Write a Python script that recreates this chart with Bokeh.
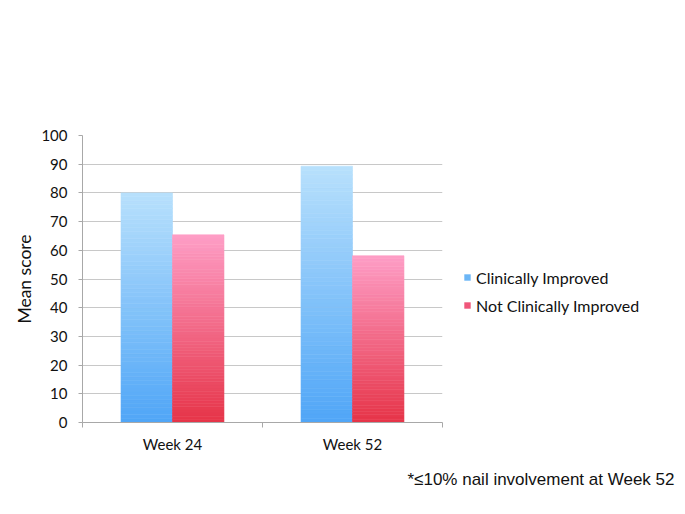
from bokeh.plotting import figure
from bokeh.models import Range1d, FixedTicker, Legend, LegendItem, Title, ColumnDataSource
from bokeh.embed import file_html
from bokeh.resources import INLINE

categories = ["Week 24", "Week 52"]
series_names = ["Clinically Improved", "Not Clinically Improved"]
clin_improved = [80.0, 89.3]
not_clin_improved = [65.4, 58.1]
y_ticks = [0, 10, 20, 30, 40, 50, 60, 70, 80, 90, 100]
footnote = "*\u226410% nail involvement at Week 52"

top_colors = [(184, 224, 252), (254, 158, 198)]
bottom_colors = [(80, 166, 247), (230, 52, 72)]
legend_colors = ["#6cb6f6", "#f0567a"]

p = figure(frame_width=360, frame_height=287, output_backend="svg", toolbar_location=None,
           x_range=Range1d(0, 2), y_range=Range1d(0, 100),
           min_border_left=82, min_border_right=235, min_border_top=135, min_border_bottom=70)
p.outline_line_color = None
p.background_fill_color = "white"
p.border_fill_color = "white"

bar_w = 0.286
N = 60

def hexc(c):
    return "#%02x%02x%02x" % tuple(int(round(v)) for v in c)

for s, vals in enumerate([clin_improved, not_clin_improved]):
    lefts, rights, bots, tops, cols = [], [], [], [], []
    for i, v in enumerate(vals):
        c = i + 0.5
        l = c - bar_w if s == 0 else c
        r = l + bar_w
        for k in range(N):
            f0 = k / N
            f1 = (k + 1) / N
            t = (f0 + f1) / 2
            col = tuple(bottom_colors[s][j] + (top_colors[s][j] - bottom_colors[s][j]) * t for j in range(3))
            lefts.append(l); rights.append(r)
            bots.append(v * f0); tops.append(v * f1)
            cols.append(hexc(col))
    src = ColumnDataSource(dict(left=lefts, right=rights, bottom=bots, top=tops, color=cols))
    p.quad(left="left", right="right", bottom="bottom", top="top", fill_color="color",
           line_color="color", line_width=0.6, source=src)

# legend proxies (placed outside the visible range)
dummies = []
for s in range(2):
    d = p.quad(left=[-10], right=[-9], bottom=[-10], top=[-9],
               fill_color=legend_colors[s], line_color=None)
    dummies.append(d)

legend = Legend(items=[LegendItem(label=series_names[0], renderers=[dummies[0]]),
                       LegendItem(label=series_names[1], renderers=[dummies[1]])],
                location=(21, 107), orientation="vertical",
                background_fill_alpha=0, border_line_color=None,
                padding=0, margin=0, spacing=8, label_height=20, glyph_width=8, glyph_height=8,
                label_standoff=5, label_text_font="Lato", label_text_font_size="16px",
                label_text_color="#111111")
p.add_layout(legend, "right")

# axes
p.yaxis.ticker = FixedTicker(ticks=y_ticks)
p.yaxis.axis_line_color = "#a8a8a8"
p.yaxis.major_tick_line_color = "#a8a8a8"
p.yaxis.major_tick_out = 4
p.yaxis.major_tick_in = 0
p.yaxis.minor_tick_line_color = None
p.yaxis.major_label_text_font = "Lato"
p.yaxis.major_label_text_font_size = "15px"
p.yaxis.major_label_text_color = "#111111"
p.yaxis.major_label_standoff = 11
p.yaxis.axis_label = "Mean score"
p.yaxis.axis_label_text_font = "Lato"
p.yaxis.axis_label_text_font_size = "17.5px"
p.yaxis.axis_label_text_font_style = "normal"
p.yaxis.axis_label_text_color = "#111111"
p.yaxis.axis_label_standoff = 3

p.xaxis.ticker = FixedTicker(ticks=[0.5, 1.5], minor_ticks=[0, 1, 2])
p.xaxis.major_label_overrides = {0.5: categories[0], 1.5: categories[1]}
p.xaxis.axis_line_color = "#a8a8a8"
p.xaxis.major_tick_line_color = None
p.xaxis.minor_tick_line_color = "#a8a8a8"
p.xaxis.minor_tick_out = 5
p.xaxis.minor_tick_in = 0
p.xaxis.major_label_text_font = "Lato"
p.xaxis.major_label_text_font_size = "15px"
p.xaxis.major_label_text_color = "#111111"
p.xaxis.major_label_standoff = 6

p.xgrid.grid_line_color = None
p.ygrid.grid_line_color = "#c8c8c8"
p.ygrid.ticker = FixedTicker(ticks=y_ticks)

p.add_layout(Title(text=footnote, align="left", offset=325, standoff=24,
                   text_font="Liberation Sans", text_font_size="17px",
                   text_font_style="normal", text_color="#111111"), "below")

open("out.html", "w").write(file_html(p, INLINE))
